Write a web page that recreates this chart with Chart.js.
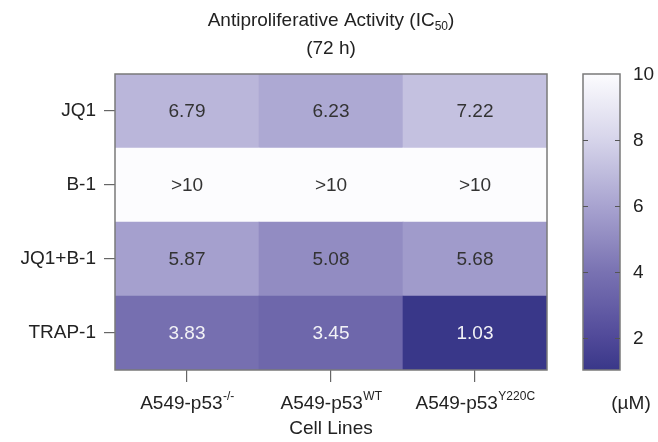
<!DOCTYPE html>
<html>
<head>
<meta charset="utf-8">
<script src="https://cdn.jsdelivr.net/npm/chart.js@4.4.1/dist/chart.umd.min.js"></script>
<style>
  html, body { margin: 0; padding: 0; background: #fff; }
  #wrap { width: 658px; height: 442px; }
</style>
</head>
<body>
<div id="wrap"><canvas id="heatmap" width="658" height="442"></canvas></div>
<script>
// data (IC50, µM)
const cellLines = ["A549-p53", "A549-p53", "A549-p53"];
const cellSups = ["-/-", "WT", "Y220C"];
const compounds = ["JQ1", "B-1", "JQ1+B-1", "TRAP-1"];
const jq1 = [6.79, 6.23, 7.22];
const b1 = [10, 10, 10];          // shown as ">10"
const jq1b1 = [5.87, 5.08, 5.68];
const trap1 = [3.83, 3.45, 1.03];
const colorTicks = [2, 4, 6, 8, 10];
const colorMin = 1.03;
const colorMax = 10;

const FONT = '"Liberation Sans", Arial, sans-serif';
const FS = 19;   // main text size
const SS = 12;   // super/subscript size

// colour map: dark indigo -> white
const cmapStops = [
  [1, [56, 54, 136]],
  [2, [80, 73, 153]],
  [4, [121, 114, 178]],
  [6, [168, 163, 208]],
  [8, [214, 212, 234]],
  [10, [252, 252, 254]],
];
function cmap(v) {
  if (v <= cmapStops[0][0]) return "rgb(" + cmapStops[0][1].join(",") + ")";
  for (let i = 1; i < cmapStops.length; i++) {
    const [v1, c1] = cmapStops[i];
    const [v0, c0] = cmapStops[i - 1];
    if (v <= v1) {
      const t = (v - v0) / (v1 - v0);
      const c = c0.map((a, k) => Math.round(a + (c1[k] - a) * t));
      return "rgb(" + c.join(",") + ")";
    }
  }
  return "rgb(" + cmapStops[cmapStops.length - 1][1].join(",") + ")";
}

// rows stacked bottom-up
const rows = [trap1, jq1b1, b1, jq1];
const datasets = rows.map((vals, r) => ({
  label: compounds[3 - r],
  values: vals,
  data: vals.map(() => 1),
  backgroundColor: vals.map(cmap),
  borderWidth: 0,
  barPercentage: 1,
  categoryPercentage: 1,
}));

const decor = {
  id: "decor",
  afterDatasetsDraw(chart) {
    const ctx = chart.ctx;
    const ca = chart.chartArea;
    ctx.save();

    // cell values
    ctx.font = FS + "px " + FONT;
    ctx.textAlign = "center";
    ctx.textBaseline = "middle";
    chart.data.datasets.forEach((ds, d) => {
      chart.getDatasetMeta(d).data.forEach((bar, i) => {
        const v = ds.values[i];
        ctx.fillStyle = v < 4.5 ? "#f2f2f6" : "#333";
        ctx.fillText(v >= 10 ? ">10" : v.toFixed(2), bar.x, (bar.y + bar.base) / 2 + 1);
      });
    });

    // frame
    ctx.strokeStyle = "#7a7a7a";
    ctx.lineWidth = 1.5;
    ctx.strokeRect(ca.left, ca.top, ca.width, ca.height);

    // x tick labels with superscripts
    const xs = chart.scales.x;
    ctx.fillStyle = "#222";
    cellLines.forEach((name, i) => {
      ctx.font = FS + "px " + FONT;
      const w1 = ctx.measureText(name).width;
      ctx.font = SS + "px " + FONT;
      const w2 = ctx.measureText(cellSups[i]).width;
      const x0 = xs.getPixelForValue(i) - (w1 + w2) / 2;
      ctx.textAlign = "left";
      ctx.textBaseline = "alphabetic";
      ctx.font = FS + "px " + FONT;
      ctx.fillText(name, x0, 409);
      ctx.font = SS + "px " + FONT;
      ctx.fillText(cellSups[i], x0 + w1 + 0.5, 400);
    });
    ctx.font = FS + "px " + FONT;
    ctx.textAlign = "center";
    ctx.fillText("Cell Lines", (ca.left + ca.right) / 2, 434);

    // title
    const t1 = "Antiproliferative Activity (IC";
    ctx.font = FS + "px " + FONT;
    const tw1 = ctx.measureText(t1).width;
    const tw3 = ctx.measureText(")").width;
    ctx.font = SS + "px " + FONT;
    const tw2 = ctx.measureText("50").width;
    const cx = (ca.left + ca.right) / 2;
    const tx = cx - (tw1 + tw2 + tw3) / 2;
    ctx.textAlign = "left";
    ctx.font = FS + "px " + FONT;
    ctx.fillText(t1, tx, 26);
    ctx.font = SS + "px " + FONT;
    ctx.fillText("50", tx + tw1, 30);
    ctx.font = FS + "px " + FONT;
    ctx.fillText(")", tx + tw1 + tw2, 26);
    ctx.textAlign = "center";
    ctx.fillText("(72 h)", cx, 54);

    // colour bar on its own hidden scale
    const cb = chart.scales.cb;
    const bx = 583, bw = 37;
    const yTop = cb.getPixelForValue(colorMax);
    const yBot = cb.getPixelForValue(colorMin);
    const grad = ctx.createLinearGradient(0, yBot, 0, yTop);
    [colorMin, 2, 3, 4, 5, 6, 7, 8, 9, colorMax].forEach((v) => {
      grad.addColorStop((v - colorMin) / (colorMax - colorMin), cmap(v));
    });
    ctx.fillStyle = grad;
    ctx.fillRect(bx, yTop, bw, yBot - yTop);
    ctx.strokeStyle = "#7a7a7a";
    ctx.lineWidth = 1.5;
    ctx.strokeRect(bx, yTop, bw, yBot - yTop);

    ctx.strokeStyle = "#555";
    ctx.lineWidth = 1.2;
    ctx.font = FS + "px " + FONT;
    ctx.fillStyle = "#222";
    ctx.textAlign = "left";
    ctx.textBaseline = "middle";
    colorTicks.forEach((v) => {
      const y = Math.round(cb.getPixelForValue(v)) + 0.5;
      if (v < colorMax) {
        ctx.beginPath();
        ctx.moveTo(bx, y); ctx.lineTo(bx + 5, y);
        ctx.moveTo(bx + bw - 5, y); ctx.lineTo(bx + bw, y);
        ctx.stroke();
      }
      ctx.fillText(String(v), 633, y);
    });
    ctx.textAlign = "center";
    ctx.textBaseline = "alphabetic";
    ctx.fillText("(\u00b5M)", 631, 409);

    ctx.restore();
  },
};

new Chart(document.getElementById("heatmap").getContext("2d"), {
  type: "bar",
  data: { labels: cellLines.map((c, i) => c + cellSups[i]), datasets: datasets },
  options: {
    responsive: false,
    animation: false,
    layout: { padding: { left: 0, top: 74, right: 111, bottom: 0 } },
    plugins: { legend: { display: false }, tooltip: { enabled: false } },
    scales: {
      x: {
        stacked: true,
        offset: true,
        grid: { offset: false, drawOnChartArea: false, drawTicks: true, tickLength: 12, color: "#666", lineWidth: 1.2 },
        border: { display: false },
        ticks: { display: false },
        afterFit: (s) => { s.height = 72; },
      },
      y: {
        stacked: true,
        min: 0,
        max: 4,
        afterBuildTicks: (s) => { s.ticks = [0.5, 1.5, 2.5, 3.5].map((v) => ({ value: v })); },
        grid: { drawOnChartArea: false, drawTicks: true, tickLength: 11, color: "#666", lineWidth: 1.2 },
        border: { display: false },
        ticks: {
          padding: 8,
          color: "#222",
          font: { family: FONT, size: FS },
          callback: (v) => compounds[3 - Math.floor(v)],
        },
        afterFit: (s) => { s.width = 115; },
      },
      cb: {
        type: "linear",
        axis: "y",
        display: false,
        min: colorMin,
        max: colorMax,
      },
    },
  },
  plugins: [decor],
});
</script>
</body>
</html>
